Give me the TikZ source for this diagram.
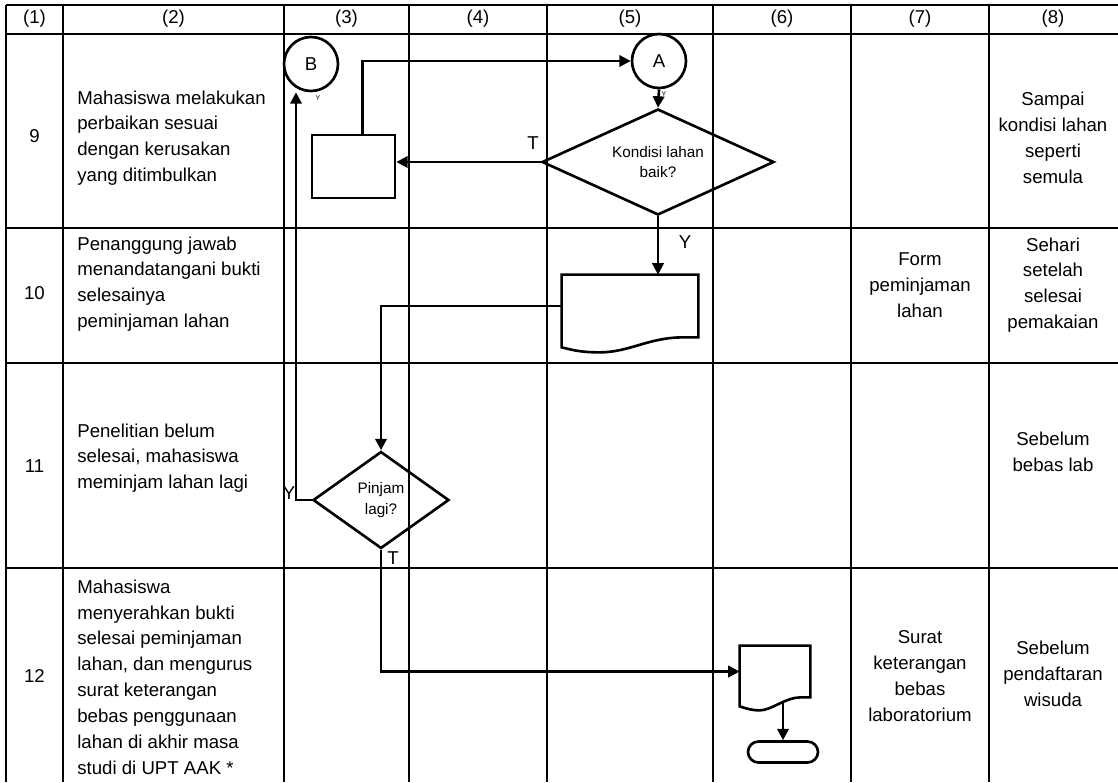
\documentclass[tikz,border=0pt]{standalone}
\usepackage{fontspec}
\setmainfont{Liberation Sans}
\setsansfont{Liberation Sans}
\usepackage{tikz}
\usetikzlibrary{arrows.meta,positioning,calc,shapes.geometric}
\tikzset{
  grid/.style={draw=black, line width=0.9pt},
  % isi tabel
  cell/.style={font=\sffamily\fontsize{10.6}{14.7}\selectfont, inner sep=0pt},
  desc/.style={cell, align=left, anchor=west},
  note/.style={cell, align=center},
  % bagan alir
  proc/.style={draw, line width=1.5pt, minimum width=1.66cm, minimum height=1.26cm},
  decide/.style={draw, line width=1.5pt, diamond, aspect=2.2, inner sep=0pt,
    font=\sffamily\fontsize{8.7}{11.9}\selectfont, align=center},
  conn/.style={draw, line width=1.5pt, circle, minimum size=1.08cm, inner sep=0pt,
    font=\sffamily\fontsize{10.6}{12}\selectfont},
  docbox/.style={inner sep=0pt},
  docline/.style={draw, line width=1.5pt},
  term/.style={draw, line width=1.5pt, rounded corners=0.21cm, minimum width=1.4cm, minimum height=0.42cm},
  flow/.style={draw, line width=1.5pt, -{Triangle[length=6.5pt,width=6.5pt]}},
  yt/.style={font=\sffamily\fontsize{10.6}{12}\selectfont, inner sep=0pt},
  ytiny/.style={font=\sffamily\fontsize{4}{4}\selectfont, inner sep=0pt}
}

\begin{document}
\begin{tikzpicture}[x=0.02cm, y=-0.02cm, font=\sffamily]
    \useasboundingbox (0,0) rectangle (1118,782);
    \draw[grid] (6,5) -- (1118,5);
    \draw[grid] (6,34) -- (1118,34);
    \draw[grid] (6,228) -- (1118,228);
    \draw[grid] (6,363) -- (1118,363);
    \draw[grid] (6,568) -- (1118,568);
    \foreach \x in {6,63,284,409,547,713,851,989}
      \draw[grid] (\x,5) -- (\x,782);
    \foreach \x/\n in {34.5/1,173.5/2,346.5/3,478/4,630/5,782/6,920/7,1053/8}
      \node[note] (h\n) at (\x,19) {(\n)};

    \node[note] (no9) at (34.5,136) {9};
    \node[note] (no10) at (34.5,293) {10};
    \node[note] (no11) at (34.5,466) {11};
    \node[note] (no12) at (34.5,676) {12};

    \node[desc] (k9) at (77,138) {Mahasiswa melakukan\\perbaikan sesuai\\dengan kerusakan\\yang ditimbulkan};
    \node[desc] (k10) at (77,284) {Penanggung jawab\\menandatangani bukti\\selesainya\\peminjaman lahan};
    \node[desc] (k11) at (77,458) {Penelitian belum\\selesai, mahasiswa\\meminjam lahan lagi};
    \node[desc] (k12) at (77,677) {Mahasiswa\\menyerahkan bukti\\selesai peminjaman\\lahan, dan mengurus\\surat keterangan\\bebas penggunaan\\lahan di akhir masa\\studi di UPT AAK *};

    \node[note] (out10) at (920,285) {Form\\peminjaman\\lahan};
    \node[note] (out12) at (920,676) {Surat\\keterangan\\bebas\\laboratorium};
    \node[note] (wkt9) at (1053,138) {Sampai\\kondisi lahan\\seperti\\semula};
    \node[note] (wkt10) at (1053,285) {Sehari\\setelah\\selesai\\pemakaian};
    \node[note] (wkt11) at (1053,452) {Sebelum\\bebas lab};
    \node[note] (wkt12) at (1053,674) {Sebelum\\pendaftaran\\wisuda};

    \node[conn] (circB) at (311,64) {B};
    \node[conn] (circA) at (659,61) {A};
    \node[proc] (perbaikan) at (353.5,166.5) {};
    \node[decide, minimum width=4.64cm, minimum height=2.12cm] (cekLahan) at (658,162) {Kondisi lahan\\baik?};
    \node[docbox, minimum width=2.72cm, minimum height=1.24cm] (formDoc) at (630,306) {};
    \node[decide, minimum width=2.72cm, minimum height=1.94cm] (pinjamLagi) at (381,500) {Pinjam\\lagi?};
    \node[docbox, minimum width=1.4cm, minimum height=1.02cm] (suratDoc) at (775,671.5) {};
    \node[term] (selesai) at (783,752) {};

    \draw[docline] (formDoc.north west) -- (formDoc.north east) -- (formDoc.south east) -- ++(-15,0)
      .. controls +(-35,0) and +(30,0) .. ($(formDoc.south west)+(38,15)$)
      .. controls +(-18,0) and +(12,3) .. ($(formDoc.south west)+(0,10)$) -- cycle;
    \draw[docline] (suratDoc.north west) -- (suratDoc.north east) -- (suratDoc.south east) -- ++(-10,0)
      .. controls +(-15,0) and +(12,0) .. ($(suratDoc.south west)+(20,13)$)
      .. controls +(-8,0) and +(6,2) .. ($(suratDoc.south west)+(0,9)$) -- cycle;

    \draw[flow] ($(perbaikan.north)+(9,0)$) |- (circA);
    \draw[flow] (circA.south) -- (cekLahan.north);
    \draw[flow] (cekLahan.west) -- (cekLahan.west -| perbaikan.east);
    \draw[flow] (cekLahan.south) -- (cekLahan.south |- formDoc.north);
    \draw[flow] (formDoc.west) -| (pinjamLagi.north);
    \draw[flow] (pinjamLagi.west) -| ($(circB.south)+(-15,0)$);
    \draw[flow] (pinjamLagi.south) |- (suratDoc.west);
    \draw[flow] ($(suratDoc.south -| selesai.north)+(0,6)$) -- (selesai.north);

    \node[yt] (tKondisi) at (533,143) {T};
    \node[yt] (yKondisi) at (685,242) {Y};
    \node[yt] (yPinjam) at (289,493) {Y};
    \node[yt] (tPinjam) at (393,558) {T};
    \node[ytiny] (yB) at (318,98) {Y};
    \node[ytiny] (yA) at (664,94) {Y};
  \end{tikzpicture}
\end{document}
